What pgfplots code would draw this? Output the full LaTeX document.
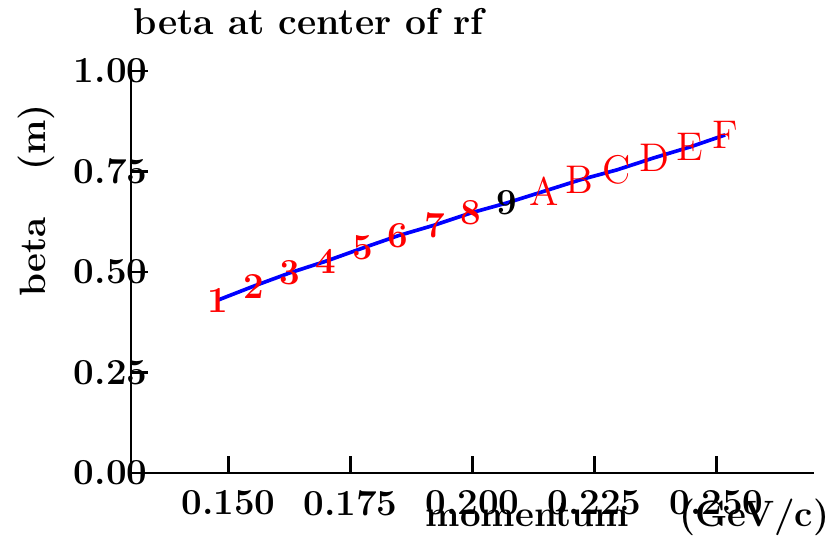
\documentclass[border=0pt]{standalone}
\usepackage{pgfplots}
\pgfplotsset{compat=1.18}
\usepackage{pgfplotstable}

% momentum (GeV/c), beta (m), label, label group (0: digit, 1: black digit, 2: letter)
\pgfplotstableread{
p      beta   lab grp
0.1478 0.430  1   0
0.1552 0.465  2   0
0.1626 0.498  3   0
0.1700 0.527  4   0
0.1776 0.560  5   0
0.1847 0.590  6   0
0.1923 0.617  7   0
0.1997 0.647  8   0
0.2071 0.672  9   1
0.2147 0.701  A   2
0.2220 0.729  B   2
0.2296 0.754  C   2
0.2372 0.784  D   2
0.2446 0.811  E   2
0.2518 0.841  F   2
}\betatab

\newcommand{\bfsz}{\bfseries\fontsize{11}{13}\selectfont}

\begin{document}
\begin{tikzpicture}
\begin{axis}[
  scale only axis,
  width=204.9pt, height=120.6pt,
  xmin=0.13, xmax=0.27, ymin=0, ymax=1,
  axis lines=left,
  axis line style={-, line width=0.8pt, black},
  xtick={0.15,0.175,0.2,0.225,0.25},
  ytick={0,0.25,0.5,0.75,1},
  scaled x ticks=false, scaled y ticks=false,
  tick align=inside,
  xtick pos=left, ytick pos=left,
  major tick length=5pt,
  tick style={line width=0.8pt, black},
  /pgf/number format/assume math mode=true,
  xticklabel style={font=\bfsz, inner sep=0pt, anchor=north, yshift=-5.1pt,
    /pgf/number format/fixed, /pgf/number format/fixed zerofill,
    /pgf/number format/precision=3},
  yticklabel style={font=\bfsz, inner sep=0pt, anchor=east, xshift=5.1pt,
    /pgf/number format/fixed, /pgf/number format/fixed zerofill,
    /pgf/number format/precision=2},
  title={beta at center of rf},
  every axis title shift=0pt,
  title style={at={(axis description cs:0.003,1.0896)}, anchor=base west,
    inner sep=0pt, font=\bfseries\fontsize{11.2}{13}\selectfont},
  xlabel={momentum\hspace{15pt}(GeV/c)},
  xlabel style={at={(axis description cs:1.0234,-0.1343)}, anchor=base east,
    inner sep=0pt, font=\bfsz},
  ylabel={beta\hspace{14pt}(m)},
  ylabel style={at={(axis description cs:-0.1259,0.4378)}, anchor=base west,
    inner sep=0pt, font=\bfsz},
  clip=false,
]
% point labels
\addplot[draw=none, nodes near coords, point meta=explicit symbolic,
  every node near coord/.style={anchor=center, inner sep=0pt, text=red,
    font=\bfsz},
  restrict expr to domain={\thisrow{grp}}{0:0}]
  table[x=p, y=beta, meta=lab]{\betatab};
\addplot[draw=none, nodes near coords, point meta=explicit symbolic,
  every node near coord/.style={anchor=center, inner sep=0pt, text=black,
    font=\bfsz},
  restrict expr to domain={\thisrow{grp}}{1:1}]
  table[x=p, y=beta, meta=lab]{\betatab};
\addplot[draw=none, nodes near coords, point meta=explicit symbolic,
  every node near coord/.style={anchor=center, inner sep=0pt, text=red,
    font=\fontsize{12}{14}\selectfont},
  restrict expr to domain={\thisrow{grp}}{2:2}]
  table[x=p, y=beta, meta=lab]{\betatab};
% beta curve
\addplot[blue, line width=1.1pt, mark=none] table[x=p, y=beta]{\betatab};
\coordinate (bbsw) at (axis description cs:-0.1918,-0.1891);
\coordinate (bbne) at (axis description cs:1.0293,1.1766);
\end{axis}
\pgfresetboundingbox
\path[use as bounding box] (bbsw) rectangle (bbne);
\end{tikzpicture}
\end{document}
